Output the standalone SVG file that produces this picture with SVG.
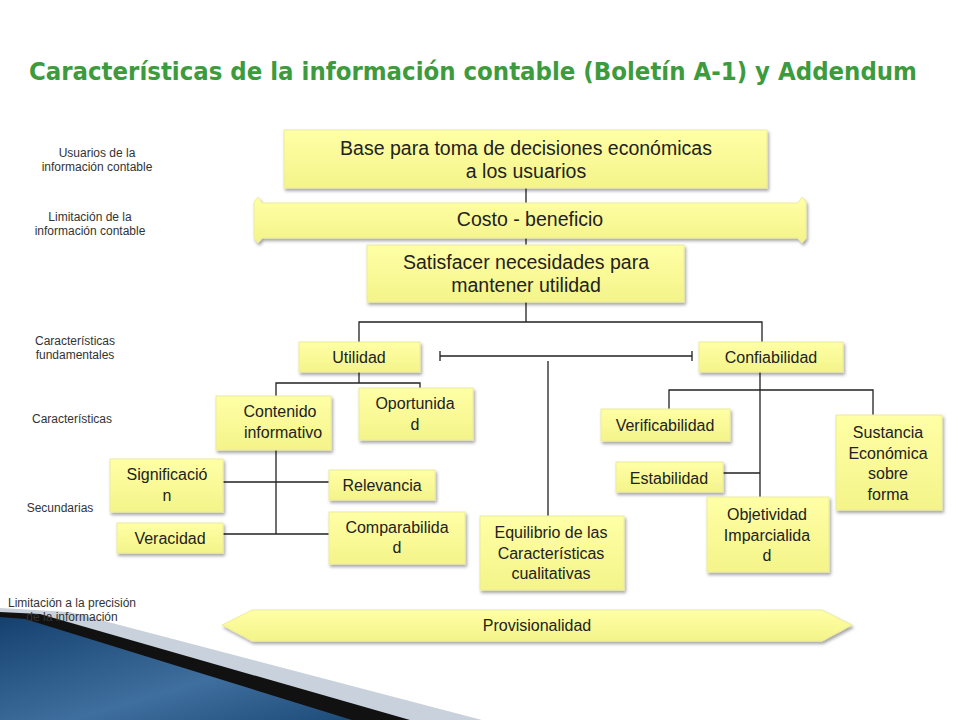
<svg xmlns="http://www.w3.org/2000/svg" width="960" height="720" viewBox="0 0 960 720">
<defs>
<linearGradient id="yg" x1="0" y1="0" x2="0" y2="1"><stop offset="0" stop-color="#ffffa6"/><stop offset="1" stop-color="#f4f48a"/></linearGradient>
<linearGradient id="bl" x1="0" y1="0" x2="1" y2="1"><stop offset="0" stop-color="#14406e"/><stop offset="0.6" stop-color="#3f6f9e"/><stop offset="1" stop-color="#1d4b7a"/></linearGradient>
<filter id="sh" x="-10%" y="-20%" width="130%" height="150%"><feDropShadow dx="1.5" dy="2.5" stdDeviation="1.5" flood-color="#000" flood-opacity="0.35"/></filter>
</defs>
<style>
.n{fill:url(#yg);stroke:#ecec9a;stroke-width:1;filter:url(#sh)}
.t{font-family:"Liberation Sans",Arial,sans-serif;fill:#222;text-anchor:middle}
.s{font-size:16px}.b{font-size:19.5px}
.l{font-family:"Liberation Sans",Arial,sans-serif;font-size:12px;fill:#333;text-anchor:middle}
.c{stroke:#222;stroke-width:1.3;fill:none}
</style>
<rect width="960" height="720" fill="#fff"/>
<polygon points="0,608 70,612 482,720 0,720" fill="#c9d2dc"/>
<polygon points="0,612 40,614 410,720 0,720" fill="#111"/>
<polygon points="0,617 25,619 352,720 0,720" fill="url(#bl)"/>
<text x="473" y="80" font-family="DejaVu Sans,Verdana,sans-serif" font-weight="bold" font-size="24" fill="#3c9b3c" text-anchor="middle" textLength="888" lengthAdjust="spacingAndGlyphs">Características de la información contable (Boletín A-1) y Addendum</text>
<g id="labels">
<text class="l" x="97" y="157">Usuarios de la</text><text class="l" x="97" y="171">información contable</text>
<text class="l" x="90" y="221">Limitación de la</text><text class="l" x="90" y="235">información contable</text>
<text class="l" x="75" y="345">Características</text><text class="l" x="75" y="359">fundamentales</text>
<text class="l" x="72" y="423">Características</text>
<text class="l" x="60" y="512">Secundarias</text>
<text class="l" x="72" y="607">Limitación a la precisión</text><text class="l" x="72" y="621">de la información</text>
</g>
<g id="connectors">
<path class="c" d="M526,188V322M359,342V322H762V342"/>
<path class="c" d="M440,356H692M440,351V361M692,351V361M548,361V516"/>
<path class="c" d="M359,372V383M276,396V383H420V388"/>
<path class="c" d="M276,450V534M223,482H329M223,534H329"/>
<path class="c" d="M760,372V497M669,409V390H873V415M723,473H760"/>
</g>
<g id="base"><rect class="n" x="284" y="130" width="483" height="58"/><text class="t b" x="526" y="155">Base para toma de decisiones económicas</text><text class="t b" x="526" y="178">a los usuarios</text></g>
<g id="costo"><path class="n" d="M258,197 L262,203 H798 L802,197 L806,202 V238 L802,243 L798,238 H262 L258,243 L254,238 V202 Z"/><text class="t b" x="530" y="226">Costo - beneficio</text></g>
<g id="satisfacer"><rect class="n" x="367" y="245" width="317" height="57"/><text class="t b" x="526" y="269">Satisfacer necesidades para</text><text class="t b" x="526" y="292">mantener utilidad</text></g>
<g id="utilidad"><rect class="n" x="299" y="342" width="121" height="30"/><text class="t s" x="359" y="363">Utilidad</text></g>
<g id="confiabilidad"><rect class="n" x="699" y="342" width="144" height="30"/><text class="t s" x="771" y="363">Confiabilidad</text></g>
<g id="contenido"><rect class="n" x="216" y="396" width="115" height="54"/><text class="t s" x="280" y="417">Contenido</text><text class="t s" x="283" y="438">informativo</text></g>
<g id="oportunidad"><rect class="n" x="359" y="388" width="114" height="52"/><text class="t s" x="415" y="409">Oportunida</text><text class="t s" x="415" y="430">d</text></g>
<g id="significacion"><rect class="n" x="110" y="459" width="113" height="53"/><text class="t s" x="167" y="480">Significació</text><text class="t s" x="167" y="501">n</text></g>
<g id="veracidad"><rect class="n" x="117" y="523" width="106" height="30"/><text class="t s" x="170" y="544">Veracidad</text></g>
<g id="relevancia"><rect class="n" x="329" y="470" width="106" height="30"/><text class="t s" x="382" y="491">Relevancia</text></g>
<g id="comparabilidad"><rect class="n" x="329" y="512" width="136" height="52"/><text class="t s" x="397" y="533">Comparabilida</text><text class="t s" x="397" y="553">d</text></g>
<g id="equilibrio"><rect class="n" x="480" y="516" width="144" height="74"/><text class="t s" x="551" y="538">Equilibrio de las</text><text class="t s" x="551" y="559">Características</text><text class="t s" x="551" y="579">cualitativas</text></g>
<g id="verificabilidad"><rect class="n" x="601" y="409" width="129" height="32"/><text class="t s" x="665" y="431">Verificabilidad</text></g>
<g id="estabilidad"><rect class="n" x="616" y="462" width="107" height="30"/><text class="t s" x="669" y="484">Estabilidad</text></g>
<g id="objetividad"><rect class="n" x="707" y="497" width="122" height="75"/><text class="t s" x="767" y="520">Objetividad</text><text class="t s" x="767" y="541">Imparcialida</text><text class="t s" x="767" y="561">d</text></g>
<g id="sustancia"><rect class="n" x="836" y="415" width="106" height="95"/><text class="t s" x="888" y="438">Sustancia</text><text class="t s" x="888" y="459">Económica</text><text class="t s" x="888" y="479">sobre</text><text class="t s" x="888" y="500">forma</text></g>
<g id="provisionalidad"><path class="n" d="M222,625 L252,610 H822 L852,625 L822,641 H252 Z"/><text class="t s" x="537" y="631">Provisionalidad</text></g>
</svg>
